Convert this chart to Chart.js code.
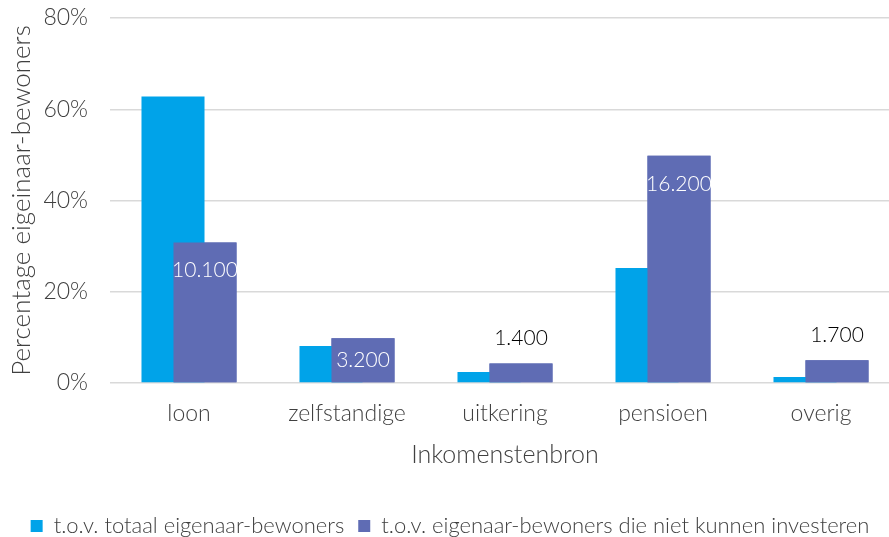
<!DOCTYPE html>
<html lang="nl">
<head>
    <meta charset="UTF-8">
    <title>Inkomstenbron eigenaar-bewoners</title>
    <script src="https://cdn.jsdelivr.net/npm/chart.js"></script>
    <style>
        html, body { margin: 0; padding: 0; background: #fff; overflow: hidden; }
        #wrap { width: 900px; height: 537px; }
    </style>
</head>
<body>
    <div id="wrap"><canvas id="bronChart"></canvas></div>
    <script>
        var categories = ['loon', 'zelfstandige', 'uitkering', 'pensioen', 'overig'];
        var totaalPct = [62.8, 8.1, 2.4, 25.2, 1.3];
        var nietInvesterenPct = [30.8, 9.8, 4.3, 49.8, 5.0];
        var aantalLabels = ['10.100', '3.200', '1.400', '16.200', '1.700'];
        var labelPlek = ['binnen', 'binnen', 'boven', 'binnen', 'boven'];
        var yTicks = [0, 20, 40, 60, 80];

        var fontName = 'Lato, "Open Sans", sans-serif';
        var textColor = '#404040';

        // paarse staven over de blauwe heen, plus de aantallen erbij
        var aantalPlugin = {
            id: 'aantallen',
            afterDatasetsDraw: function (chart) {
                var meta = chart.getDatasetMeta(1);
                meta.controller.draw();
                var ctx = chart.ctx;
                ctx.save();
                ctx.textAlign = 'center';
                ctx.textBaseline = 'middle';
                ctx.font = '300 21px ' + fontName;
                meta.data.forEach(function (bar, i) {
                    var h = bar.base - bar.y;
                    if (labelPlek[i] == 'binnen') {
                        ctx.fillStyle = '#ffffff';
                        ctx.fillText(aantalLabels[i], bar.x, bar.y + Math.min(28, h / 2));
                    } else {
                        ctx.fillStyle = '#000000';
                        ctx.fillText(aantalLabels[i], bar.x, bar.y - 25);
                    }
                });
                ctx.restore();
            }
        };

        const ctx = document.getElementById('bronChart').getContext('2d');
        const bronChart = new Chart(ctx, {
            type: 'bar',
            data: {
                labels: categories,
                datasets: [
                    {
                        label: 't.o.v. totaal eigenaar-bewoners',
                        data: totaalPct,
                        backgroundColor: '#00a3e9',
                        categoryPercentage: 0.405,
                        barPercentage: 1.97
                    },
                    {
                        label: 't.o.v. eigenaar-bewoners die niet kunnen investeren',
                        data: nietInvesterenPct,
                        backgroundColor: '#5f6cb4',
                        categoryPercentage: 0.405,
                        barPercentage: 1.97
                    }
                ]
            },
            options: {
                responsive: true,
                maintainAspectRatio: false,
                animation: false,
                layout: { padding: { left: 0, right: 0, top: 18, bottom: -10 } },
                plugins: {
                    tooltip: { enabled: false },
                    legend: {
                        position: 'bottom',
                        labels: {
                            boxWidth: 12,
                            boxHeight: 12,
                            padding: 14,
                            color: textColor,
                            font: { family: fontName, size: 22, weight: '300' }
                        }
                    }
                },
                scales: {
                    x: {
                        grid: { display: false, drawTicks: false },
                        border: { display: false },
                        ticks: {
                            color: textColor,
                            padding: 17,
                            font: { family: fontName, size: 23, weight: '300' }
                        },
                        title: {
                            display: true,
                            text: 'Inkomenstenbron',
                            color: textColor,
                            padding: { top: 0, bottom: 31 },
                            font: { family: fontName, size: 25, weight: '300' }
                        },
                        afterFit: function (scale) { scale.height = 118; }
                    },
                    y: {
                        min: 0,
                        max: 80,
                        afterBuildTicks: function (scale) {
                            scale.ticks = yTicks.map(function (v) { return { value: v }; });
                        },
                        grid: { color: '#d9d9d9', lineWidth: 1.5, drawTicks: false },
                        border: { display: false },
                        ticks: {
                            color: textColor,
                            padding: 22,
                            font: { family: fontName, size: 23, weight: '300' },
                            callback: function (v) { return v + '%'; }
                        },
                        title: {
                            display: true,
                            text: 'Percentage eigeinaar-bewoners',
                            color: textColor,
                            padding: { top: 6, bottom: 0 },
                            font: { family: fontName, size: 26, weight: '300' }
                        },
                        afterFit: function (scale) {
                            scale.width = 110;
                            scale.paddingTop = 0;
                        }
                    }
                }
            },
            plugins: [aantalPlugin]
        });
    </script>
</body>
</html>
